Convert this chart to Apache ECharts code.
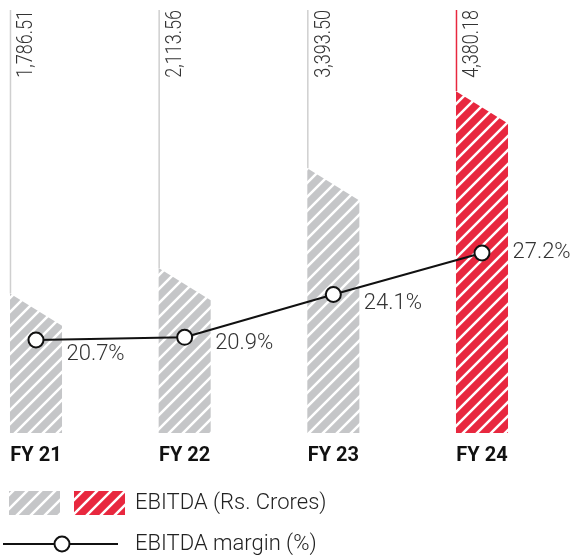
<!DOCTYPE html>
<html>
<head>
    <meta charset="utf-8" />
    <title>EBITDA</title>
    <script src="https://cdn.jsdelivr.net/npm/echarts@6.0.0/dist/echarts.min.js"></script>
</head>
<body style="margin:0">
    <div id="main" style="width:570px;height:558px"></div>
    <script type="text/javascript">
        var years = ['FY 21', 'FY 22', 'FY 23', 'FY 24'];
        var ebitda = [1786.51, 2113.56, 3393.50, 4380.18];
        var ebitdaLabels = ['1,786.51', '2,113.56', '3,393.50', '4,380.18'];
        var margin = [20.7, 20.9, 24.1, 27.2];
        var highlightIndex = 3;

        // vertical nudge for each margin label
        var labelDy = [15, 6, 9, -1];

        var GREY = '#c5c6c8';
        var RED = '#e8283f';
        var FONT = 'Roboto';

        function stripes(color) {
            var s = 14;
            var c = document.createElement('canvas');
            c.width = s;
            c.height = s;
            var ctx = c.getContext('2d');
            ctx.fillStyle = color;
            ctx.fillRect(0, 0, s, s);
            ctx.strokeStyle = '#fff';
            ctx.lineWidth = 2.5;
            ctx.beginPath();
            ctx.moveTo(-2, s + 2); ctx.lineTo(s + 2, -2);
            ctx.moveTo(-2, 2); ctx.lineTo(2, -2);
            ctx.moveTo(s - 2, s + 2); ctx.lineTo(s + 2, s - 2);
            ctx.stroke();
            return { image: c, repeat: 'repeat' };
        }
        var greyPattern = stripes(GREY);
        var redPattern = stripes(RED);

        function renderBar(params, api) {
            var i = api.value(0);
            var v = api.value(1);
            var base = api.coord([i, 0]);
            var top = api.coord([i, v]);
            var step = api.coord([1, 0])[0] - api.coord([0, 0])[0];
            var w = step * 0.35;
            var x0 = base[0] - w / 2;
            var x1 = base[0] + w / 2;
            var slant = w * 0.62;
            var plotTop = params.coordSys.y;
            var hot = i === highlightIndex;
            return {
                type: 'group',
                children: [
                    {
                        type: 'line',
                        shape: { x1: x0 + 0.5, y1: plotTop, x2: x0 + 0.5, y2: top[1] },
                        style: { stroke: hot ? RED : '#cfcfcf', lineWidth: 1.5 }
                    },
                    {
                        type: 'polygon',
                        shape: { points: [[x0, base[1]], [x0, top[1]], [x1, top[1] + slant], [x1, base[1]]] },
                        style: { fill: hot ? redPattern : greyPattern }
                    },
                    {
                        type: 'text',
                        x: x0 + 17,
                        y: plotTop,
                        rotation: Math.PI / 2,
                        scaleX: 0.82,
                        style: {
                            text: ebitdaLabels[i],
                            fontSize: 22,
                            fontFamily: FONT,
                            fontWeight: 300,
                            fill: '#333',
                            align: 'right',
                            verticalAlign: 'middle'
                        }
                    }
                ]
            };
        }

        var myChart = echarts.init(document.getElementById('main'));
        var option = {
            animation: false,
            grid: { left: 36, right: 88, top: 10, bottom: 125 },
            xAxis: {
                type: 'category',
                data: years,
                boundaryGap: false,
                axisLine: { show: false },
                axisTick: { show: false },
                axisLabel: {
                    margin: 13,
                    fontSize: 20,
                    fontWeight: 'bold',
                    fontFamily: FONT,
                    color: '#111'
                }
            },
            yAxis: [
                { type: 'value', min: 0, max: 5420, show: false },
                { type: 'value', min: 13.75, max: 45.36, show: false }
            ],
            series: [
                {
                    name: 'EBITDA (Rs. Crores)',
                    type: 'custom',
                    renderItem: renderBar,
                    data: ebitda.map(function (v, i) { return [i, v]; }),
                    z: 1
                },
                {
                    name: 'EBITDA margin (%)',
                    type: 'line',
                    yAxisIndex: 1,
                    z: 10,
                    symbol: 'circle',
                    symbolSize: 15,
                    lineStyle: { color: '#111', width: 2 },
                    itemStyle: { color: '#fff', borderColor: '#111', borderWidth: 2 },
                    label: {
                        show: true,
                        position: 'right',
                        distance: 22,
                        fontSize: 22,
                        fontFamily: FONT,
                        fontWeight: 300,
                        color: '#333',
                        formatter: function (p) { return p.value.toFixed(1) + '%'; }
                    },
                    data: margin.map(function (m, i) {
                        return { value: m, label: { offset: [0, labelDy[i]] } };
                    })
                }
            ],
            graphic: [
                { type: 'rect', shape: { x: 9, y: 491, width: 51, height: 24 }, style: { fill: greyPattern } },
                { type: 'rect', shape: { x: 74, y: 491, width: 51, height: 24 }, style: { fill: redPattern } },
                {
                    type: 'text', x: 135, y: 503,
                    style: { text: 'EBITDA (Rs. Crores)', fontSize: 22, fontFamily: FONT, fontWeight: 300, fill: '#222', verticalAlign: 'middle' }
                },
                { type: 'line', shape: { x1: 3, y1: 544, x2: 118, y2: 544 }, style: { stroke: '#111', lineWidth: 2 } },
                { type: 'circle', shape: { cx: 62, cy: 544, r: 7.5 }, style: { fill: '#fff', stroke: '#111', lineWidth: 2 } },
                {
                    type: 'text', x: 135, y: 544,
                    style: { text: 'EBITDA margin (%)', fontSize: 22, fontFamily: FONT, fontWeight: 300, fill: '#222', verticalAlign: 'middle' }
                }
            ]
        };
        myChart.setOption(option);
    </script>
</body>
</html>
